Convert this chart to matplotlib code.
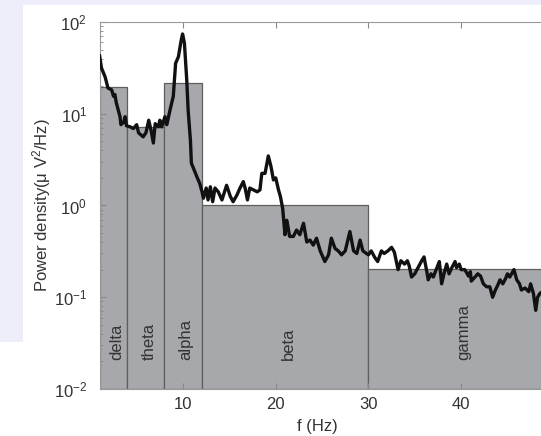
import numpy as np
import matplotlib.pyplot as plt
from matplotlib.patches import Rectangle

plt.rcParams['font.family'] = ['Liberation Sans', 'DejaVu Sans']
plt.rcParams['mathtext.fontset'] = 'custom'
plt.rcParams['mathtext.rm'] = 'Liberation Sans'
plt.rcParams['mathtext.it'] = 'Liberation Sans:italic'

# frequency bands: name, lower edge, upper edge, mean power
band_names = ['delta', 'theta', 'alpha', 'beta', 'gamma']
band_lo = [1, 4, 8, 12, 30]
band_hi = [4, 8, 12, 30, 50]
band_power = [19.5, 7.1, 21.6, 0.99, 0.193]

# power spectrum
freq = [1.0, 1.2, 1.6, 1.9, 2.3, 2.5, 2.65, 2.8, 3.2, 3.3, 3.6, 3.75, 3.9, 4.3, 4.65,
        5.0, 5.2, 5.7, 6.0, 6.3, 6.55, 6.8, 7.0, 7.35, 7.5, 7.7, 8.05, 8.25, 8.6, 8.95,
        9.2, 9.5, 9.8, 9.95, 10.15, 10.4, 10.55, 10.8, 10.9, 11.5, 11.8, 12.05, 12.2, 12.5,
        12.7, 12.95, 13.2, 13.45, 13.8, 14.2, 14.7, 15.1, 15.4, 15.8, 16.15, 16.5, 16.7,
        16.95, 17.2, 17.6, 18.0, 18.3, 18.5, 18.85, 19.2, 19.5, 19.75, 20.0, 20.3, 20.5,
        20.75, 21.0, 21.2, 21.5, 21.9, 22.25, 22.6, 23.0, 23.35, 23.7, 24.05, 24.4, 24.8,
        25.3, 25.7, 26.0, 26.4, 26.75, 27.1, 27.5, 28.0, 28.4, 28.75, 29.1, 29.4, 30.0,
        30.3, 30.7, 31.0, 31.4, 31.7, 32.1, 32.5, 32.8, 33.2, 33.5, 33.9, 34.2, 34.4,
        34.65, 35.0, 35.35, 35.75, 36.0, 36.3, 36.45, 36.75, 37.0, 37.4, 37.65, 37.9,
        38.15, 38.45, 38.7, 39.0, 39.35, 39.5, 39.8, 40.0, 40.4, 40.8, 41.0, 41.1, 41.5,
        41.8, 42.1, 42.4, 42.75, 43.1, 43.4, 43.7, 43.95, 44.2, 44.5, 44.8, 45.0, 45.25,
        45.45, 45.7, 46.0, 46.3, 46.5, 46.9, 47.3, 47.5, 47.8, 48.05, 48.25, 48.5, 49.0,
        49.5, 50.0]
power = [42.7, 31.6, 25.1, 19.1, 18.2, 15.5, 16.2, 13.2, 9.3, 7.6, 8.1, 9.3, 7.4, 7.2, 6.9,
         7.6, 6.2, 5.6, 6.2, 8.5, 6.6, 4.8, 7.8, 7.2, 8.5, 7.2, 9.3, 7.6, 11.0, 15.5,
         35.5, 41.7, 63, 74, 59, 23.4, 11.0, 5.1, 2.9, 2.05, 1.74, 1.41, 1.2, 1.55,
         1.15, 1.6, 1.1, 1.55, 1.41, 1.15, 1.66, 1.26, 1.1, 1.29, 1.55, 1.82, 1.55,
         1.15, 1.55, 1.48, 1.41, 1.48, 2.24, 2.24, 3.47, 2.63, 1.9, 2.0, 1.48, 1.26,
         0.93, 0.48, 0.69, 0.46, 0.46, 0.54, 0.48, 0.64, 0.40, 0.42, 0.37, 0.44, 0.32,
         0.245, 0.29, 0.44, 0.34, 0.32, 0.29, 0.32, 0.52, 0.32, 0.30, 0.42, 0.32, 0.29,
         0.32, 0.27, 0.245, 0.32, 0.30, 0.32, 0.35, 0.31, 0.20, 0.25, 0.23, 0.25, 0.22,
         0.166, 0.18, 0.21, 0.25, 0.275, 0.19, 0.155, 0.18, 0.166, 0.21, 0.245, 0.14,
         0.18, 0.23, 0.18, 0.21, 0.245, 0.21, 0.23, 0.20, 0.20, 0.17, 0.19, 0.15, 0.166,
         0.18, 0.17, 0.14, 0.13, 0.13, 0.10, 0.12, 0.135, 0.155, 0.14, 0.16, 0.18, 0.166,
         0.18, 0.20, 0.155, 0.14, 0.12, 0.126, 0.115, 0.14, 0.11, 0.072, 0.10, 0.11, 0.12,
         0.107, 0.11]

W, H = 541, 436
fig = plt.figure(figsize=(W / 100, H / 100), dpi=100)
fig.patch.set_facecolor('white')

# lavender screenshot background
lav = '#eeeefa'
fig.add_artist(Rectangle((0, 1 - 342 / H), 23 / W, 342 / H, transform=fig.transFigure,
                         color=lav, zorder=-2, lw=0))
fig.add_artist(Rectangle((0, 1 - 5 / H), 1, 5 / H, transform=fig.transFigure,
                         color=lav, zorder=-2, lw=0))

ax = fig.add_axes([99.6 / W, 47 / H, 454.2 / W, 367 / H])
ax.set_yscale('log')

widths = [h - l for l, h in zip(band_lo, band_hi)]
ax.bar(band_lo, band_power, width=widths, align='edge', bottom=0.01,
       color='#a7a8ac', edgecolor='#5e5e5e', linewidth=0.9, zorder=1)
ax.plot(freq, power, color='#111111', lw=2.4, zorder=3)

for name, l, h in zip(band_names, band_lo, band_hi):
    ax.text((l + h) / 2 + 0.33, 0.0207, name, rotation=90, ha='center', va='bottom',
            fontsize=12, color='#333333', zorder=4)

ax.set_xlim(1, 50)
ax.set_ylim(0.01, 100)
ax.set_xticks([10, 20, 30, 40])
ax.set_yticks([0.01, 0.1, 1, 10, 100])
ax.tick_params(which='both', direction='in', top=True, right=True, colors='#888888',
               labelcolor='#333333', labelsize=12)
ax.tick_params(which='major', length=4)
ax.tick_params(which='minor', length=2)
ax.tick_params(axis='x', pad=6)
ax.tick_params(axis='y', pad=9)
for s in ax.spines.values():
    s.set_color('#999999')
    s.set_linewidth(0.8)

ax.set_xlabel('f (Hz)', fontsize=12, color='#333333')
ax.xaxis.set_label_coords(0.479, -0.082)
ax.set_ylabel('Power density(μ V$^{2}$/Hz)', fontsize=12, color='#333333')
ax.yaxis.set_label_coords(-0.103, 0.5)

fig.savefig('out.png', dpi=100)
